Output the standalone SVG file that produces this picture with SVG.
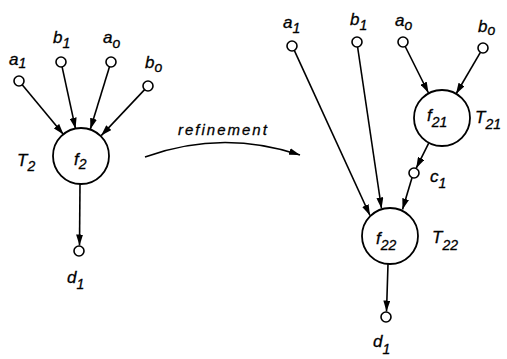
<svg xmlns="http://www.w3.org/2000/svg" width="507" height="359" viewBox="0 0 507 359">
  <defs>
    <marker id="arrow" viewBox="0 0 11 7" refX="11" refY="3.5" markerWidth="11" markerHeight="7" markerUnits="userSpaceOnUse" orient="auto">
      <path d="M0,0 L11,3.5 L0,7 z" fill="#000"/>
    </marker>
  </defs>
  <style>
    .pin { fill: #fff; stroke: #000; stroke-width: 1.6; }
    .fn { fill: #fff; stroke: #000; stroke-width: 1.8; }
    .edge { fill: none; stroke: #000; stroke-width: 1.6; marker-end: url(#arrow); }
    text { font-family: "Liberation Sans", Arial, sans-serif; font-style: italic; font-size: 17px; fill: #000; stroke: #000; stroke-width: 0.3; }
    .sub { font-size: 14px; }
  </style>

  <rect width="507" height="359" fill="#fff"/>

  <!-- connectors -->
  <g id="connectors">
    <!-- left: T2 -->
    <line class="edge" x1="22.2" y1="84.8" x2="63.5" y2="134.6"/>
    <line class="edge" x1="62.1" y1="66.9" x2="75.5" y2="128.7"/>
    <line class="edge" x1="109.5" y1="66.8" x2="90.3" y2="129.3"/>
    <line class="edge" x1="144.6" y1="89.6" x2="101.2" y2="135.6"/>
    <line class="edge" x1="80" y1="184" x2="79.5" y2="245.5"/>
    <!-- refinement -->
    <path class="edge" d="M145,157 Q222,129 300,155"/>
    <!-- right: T21 -->
    <line class="edge" x1="405.2" y1="46.5" x2="428.5" y2="93"/>
    <line class="edge" x1="480.4" y1="52.3" x2="456" y2="94"/>
    <line class="edge" x1="428.7" y1="143.1" x2="416.2" y2="168.2"/>
    <!-- right: T22 -->
    <line class="edge" x1="294.3" y1="50.4" x2="370" y2="215.5"/>
    <line class="edge" x1="357.6" y1="47" x2="381.5" y2="208.5"/>
    <line class="edge" x1="412" y1="177.7" x2="402.5" y2="209.5"/>
    <line class="edge" x1="388" y1="264" x2="386.5" y2="311.5"/>
  </g>

  <!-- left graph -->
  <g id="f2">
    <circle class="fn" cx="81" cy="156" r="28"/>
    <text x="74" y="165">f<tspan class="sub" dy="4">2</tspan></text>
  </g>
  <g id="T2-label"><text x="17" y="166">T<tspan class="sub" dy="5">2</tspan></text></g>
  <g id="a1-left">
    <circle class="pin" cx="19" cy="81" r="5"/>
    <text x="9" y="65">a<tspan class="sub" dy="3">1</tspan></text>
  </g>
  <g id="b1-left">
    <circle class="pin" cx="61" cy="62" r="5"/>
    <text x="53" y="43">b<tspan class="sub" dy="5">1</tspan></text>
  </g>
  <g id="a0-left">
    <circle class="pin" cx="111" cy="62" r="5"/>
    <text x="103" y="43">a<tspan class="sub" dy="5">o</tspan></text>
  </g>
  <g id="b0-left">
    <circle class="pin" cx="148" cy="86" r="5"/>
    <text x="145" y="68">b<tspan class="sub" dy="4">o</tspan></text>
  </g>
  <g id="d1-left">
    <circle class="pin" cx="79" cy="251" r="5"/>
    <text x="67" y="283">d<tspan class="sub" dy="6">1</tspan></text>
  </g>

  <!-- refinement label -->
  <g id="refinement-label"><text x="178" y="135" style="font-size:15px;letter-spacing:2px">refinement</text></g>

  <!-- right graph -->
  <g id="f21">
    <circle class="fn" cx="442" cy="118" r="28"/>
    <text x="427" y="121">f<tspan class="sub" dy="6">21</tspan></text>
  </g>
  <g id="T21-label"><text x="475" y="123">T<tspan class="sub" dy="6">21</tspan></text></g>
  <g id="f22">
    <circle class="fn" cx="390" cy="236" r="28"/>
    <text x="376" y="244">f<tspan class="sub" dy="6">22</tspan></text>
  </g>
  <g id="T22-label"><text x="432" y="243">T<tspan class="sub" dy="7">22</tspan></text></g>
  <g id="a1-right">
    <circle class="pin" cx="292" cy="46" r="5"/>
    <text x="283" y="28">a<tspan class="sub" dy="5">1</tspan></text>
  </g>
  <g id="b1-right">
    <circle class="pin" cx="357" cy="42" r="5"/>
    <text x="350" y="25">b<tspan class="sub" dy="5">1</tspan></text>
  </g>
  <g id="a0-right">
    <circle class="pin" cx="403" cy="42" r="5"/>
    <text x="395" y="26">a<tspan class="sub" dy="4">o</tspan></text>
  </g>
  <g id="b0-right">
    <circle class="pin" cx="483" cy="48" r="5"/>
    <text x="478" y="32">b<tspan class="sub" dy="3">o</tspan></text>
  </g>
  <g id="c1">
    <circle class="pin" cx="414" cy="173" r="5"/>
    <text x="430" y="182">c<tspan class="sub" dy="6">1</tspan></text>
  </g>
  <g id="d1-right">
    <circle class="pin" cx="386" cy="317" r="5"/>
    <text x="373" y="347">d<tspan class="sub" dy="7">1</tspan></text>
  </g>
</svg>
